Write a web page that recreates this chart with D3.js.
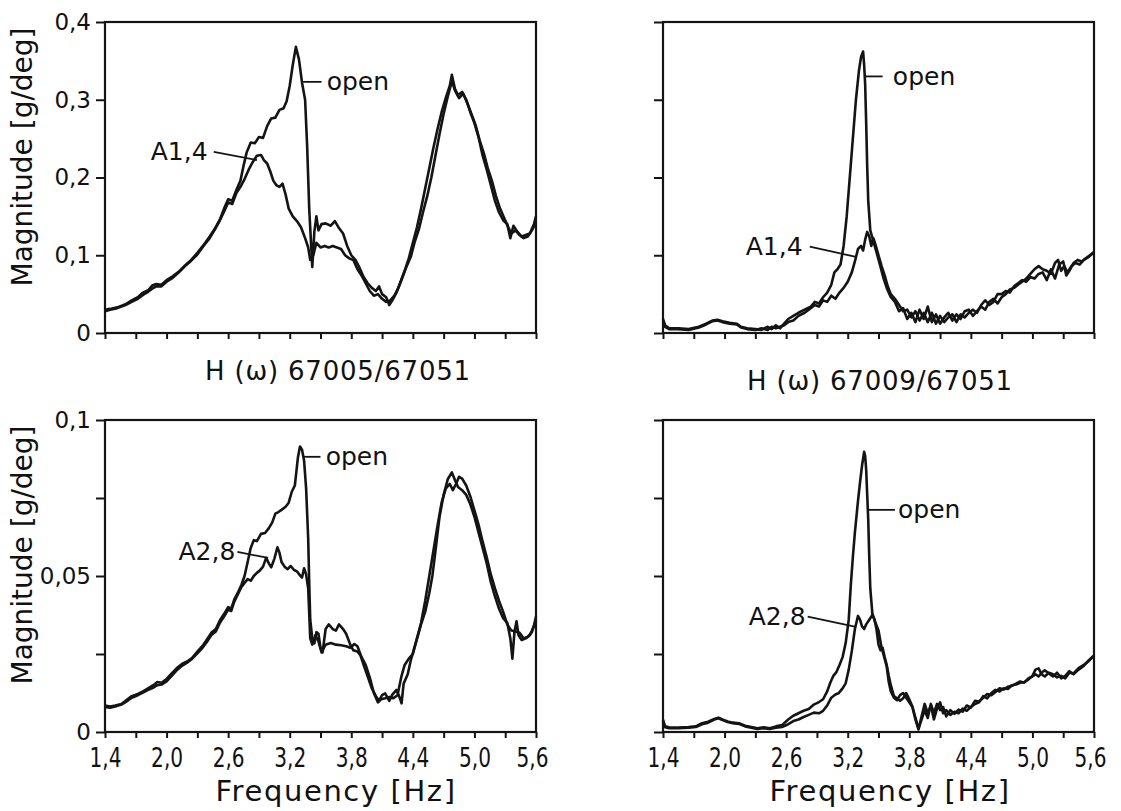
<!DOCTYPE html>
<html>
<head>
<meta charset="utf-8">
<script src="https://cdn.jsdelivr.net/npm/d3@7"></script>
<style>
  html, body { margin: 0; padding: 0; background: #fff; }
  svg { display: block; }
  text { font-family: "DejaVu Sans", sans-serif; fill: #111; }
</style>
</head>
<body>
<div id="chart"></div>
<script>
// ---------- data ----------
const X_TICKS = [1.4, 1.7, 2.0, 2.3, 2.6, 2.9, 3.2, 3.5, 3.8, 4.1, 4.4, 4.7, 5.0, 5.3, 5.6];
const X_TICK_LABELS = ['1,4', '', '2,0', '', '2,6', '', '3,2', '', '3,8', '', '4,4', '', '5,0', '', '5,6'];
const Y_TICKS_TOP = [0, 0.1, 0.2, 0.3, 0.4];
const Y_TICK_LABELS_TOP = ['0', '0,1', '0,2', '0,3', '0,4'];
const Y_TICKS_BOTTOM = [0, 0.025, 0.05, 0.075, 0.1];
const Y_TICK_LABELS_BOTTOM = ['0', '', '0,05', '', '0,1'];

// H(w) 67005/67051, upper (0..0.4)
const TL_OPEN = [[1.40,0.030],[1.45,0.031],[1.52,0.033],[1.60,0.037],[1.66,0.042],[1.72,0.046],[1.77,0.052],[1.82,0.055],[1.86,0.061],[1.90,0.063],[1.95,0.062],[2.00,0.068],[2.06,0.073],[2.12,0.079],[2.18,0.087],[2.24,0.094],[2.30,0.103],[2.36,0.113],[2.42,0.124],[2.47,0.134],[2.52,0.146],[2.56,0.160],[2.60,0.172],[2.64,0.170],[2.68,0.184],[2.72,0.196],[2.75,0.215],[2.78,0.232],[2.82,0.245],[2.86,0.244],[2.90,0.252],[2.94,0.251],[2.98,0.266],[3.02,0.276],[3.06,0.277],[3.10,0.287],[3.14,0.289],[3.17,0.298],[3.20,0.318],[3.23,0.345],[3.26,0.368],[3.29,0.352],[3.32,0.322],[3.35,0.300],[3.37,0.240],[3.39,0.160],[3.41,0.110],[3.42,0.085],[3.44,0.130],[3.46,0.150],[3.48,0.132],[3.51,0.140],[3.55,0.141],[3.60,0.138],[3.64,0.144],[3.68,0.135],[3.72,0.128],[3.76,0.112],[3.80,0.100],[3.84,0.094],[3.88,0.084],[3.92,0.072],[3.96,0.064],[4.00,0.058],[4.04,0.054],[4.07,0.060],[4.10,0.050],[4.14,0.046],[4.17,0.036],[4.20,0.042],[4.24,0.052],[4.28,0.066],[4.32,0.080],[4.36,0.096],[4.40,0.116],[4.44,0.136],[4.48,0.160],[4.52,0.186],[4.56,0.212],[4.60,0.238],[4.64,0.262],[4.68,0.284],[4.72,0.302],[4.76,0.318],[4.78,0.332],[4.81,0.314],[4.84,0.306],[4.88,0.310],[4.92,0.300],[4.96,0.284],[5.00,0.270],[5.04,0.252],[5.08,0.228],[5.12,0.210],[5.16,0.190],[5.20,0.170],[5.24,0.155],[5.28,0.145],[5.32,0.140],[5.35,0.122],[5.38,0.138],[5.42,0.130],[5.46,0.124],[5.50,0.126],[5.54,0.128],[5.58,0.140],[5.60,0.150]];
const TL_A14 = [[1.40,0.028],[1.45,0.030],[1.52,0.032],[1.60,0.036],[1.66,0.040],[1.72,0.044],[1.77,0.049],[1.82,0.053],[1.86,0.057],[1.90,0.060],[1.95,0.060],[2.00,0.066],[2.06,0.071],[2.12,0.078],[2.18,0.086],[2.24,0.093],[2.30,0.101],[2.36,0.112],[2.42,0.122],[2.47,0.133],[2.52,0.145],[2.56,0.156],[2.60,0.168],[2.64,0.166],[2.68,0.180],[2.72,0.188],[2.76,0.198],[2.80,0.210],[2.84,0.220],[2.88,0.228],[2.92,0.229],[2.95,0.222],[2.98,0.218],[3.01,0.208],[3.04,0.196],[3.07,0.190],[3.10,0.188],[3.13,0.192],[3.16,0.178],[3.19,0.160],[3.23,0.150],[3.27,0.144],[3.31,0.136],[3.35,0.122],[3.38,0.110],[3.40,0.094],[3.43,0.100],[3.46,0.116],[3.50,0.110],[3.54,0.112],[3.58,0.110],[3.62,0.112],[3.66,0.110],[3.70,0.108],[3.74,0.100],[3.78,0.096],[3.82,0.094],[3.86,0.082],[3.90,0.074],[3.94,0.064],[3.98,0.054],[4.02,0.048],[4.06,0.050],[4.10,0.044],[4.14,0.040],[4.18,0.042],[4.22,0.048],[4.26,0.058],[4.30,0.072],[4.34,0.086],[4.38,0.098],[4.42,0.118],[4.46,0.134],[4.50,0.156],[4.54,0.176],[4.58,0.200],[4.62,0.228],[4.66,0.256],[4.70,0.282],[4.74,0.304],[4.78,0.324],[4.81,0.312],[4.85,0.302],[4.89,0.308],[4.93,0.296],[4.97,0.282],[5.01,0.268],[5.05,0.248],[5.09,0.232],[5.13,0.212],[5.17,0.196],[5.21,0.176],[5.25,0.160],[5.29,0.148],[5.33,0.136],[5.36,0.128],[5.40,0.132],[5.44,0.126],[5.48,0.122],[5.52,0.124],[5.56,0.132],[5.60,0.142]];

// H(w) 67009/67051, upper (0..0.4)
const TR_OPEN = [[1.40,0.018],[1.42,0.010],[1.46,0.006],[1.55,0.006],[1.65,0.005],[1.75,0.008],[1.82,0.012],[1.88,0.016],[1.93,0.017],[1.98,0.015],[2.05,0.013],[2.12,0.012],[2.16,0.008],[2.22,0.006],[2.30,0.005],[2.36,0.004],[2.42,0.008],[2.46,0.005],[2.50,0.010],[2.54,0.006],[2.58,0.012],[2.62,0.018],[2.67,0.022],[2.72,0.026],[2.78,0.030],[2.84,0.034],[2.88,0.040],[2.92,0.038],[2.96,0.046],[3.00,0.052],[3.04,0.062],[3.07,0.078],[3.10,0.082],[3.13,0.088],[3.16,0.112],[3.19,0.150],[3.22,0.200],[3.25,0.250],[3.28,0.300],[3.31,0.338],[3.33,0.355],[3.35,0.362],[3.36,0.345],[3.37,0.320],[3.38,0.270],[3.39,0.214],[3.40,0.170],[3.42,0.132],[3.45,0.118],[3.48,0.104],[3.51,0.090],[3.55,0.070],[3.58,0.058],[3.62,0.046],[3.66,0.040],[3.70,0.028],[3.74,0.032],[3.78,0.018],[3.82,0.026],[3.86,0.014],[3.90,0.030],[3.94,0.018],[3.98,0.034],[4.02,0.014],[4.06,0.024],[4.10,0.012],[4.14,0.020],[4.18,0.026],[4.22,0.016],[4.26,0.024],[4.30,0.018],[4.34,0.028],[4.38,0.030],[4.42,0.022],[4.46,0.028],[4.50,0.034],[4.54,0.030],[4.58,0.040],[4.62,0.044],[4.66,0.038],[4.70,0.046],[4.74,0.050],[4.78,0.056],[4.82,0.058],[4.86,0.062],[4.90,0.066],[4.94,0.070],[4.98,0.076],[5.02,0.082],[5.06,0.086],[5.10,0.082],[5.14,0.080],[5.18,0.076],[5.22,0.090],[5.25,0.094],[5.28,0.080],[5.31,0.086],[5.34,0.078],[5.38,0.086],[5.42,0.090],[5.46,0.088],[5.50,0.094],[5.55,0.098],[5.60,0.104]];
const TR_A14 = [[1.40,0.016],[1.42,0.008],[1.46,0.005],[1.55,0.005],[1.65,0.004],[1.75,0.007],[1.82,0.011],[1.88,0.015],[1.93,0.016],[1.98,0.014],[2.05,0.012],[2.12,0.011],[2.16,0.007],[2.22,0.005],[2.30,0.004],[2.36,0.006],[2.42,0.004],[2.46,0.008],[2.50,0.006],[2.54,0.008],[2.58,0.010],[2.62,0.014],[2.67,0.016],[2.72,0.022],[2.78,0.026],[2.84,0.032],[2.88,0.036],[2.92,0.034],[2.96,0.042],[3.00,0.040],[3.04,0.048],[3.08,0.044],[3.12,0.052],[3.16,0.058],[3.20,0.066],[3.24,0.078],[3.27,0.092],[3.30,0.108],[3.33,0.112],[3.35,0.106],[3.37,0.120],[3.39,0.130],[3.41,0.124],[3.43,0.112],[3.45,0.122],[3.47,0.114],[3.50,0.100],[3.53,0.086],[3.56,0.074],[3.59,0.060],[3.62,0.050],[3.66,0.044],[3.70,0.036],[3.74,0.028],[3.78,0.030],[3.82,0.020],[3.86,0.028],[3.90,0.016],[3.94,0.026],[3.98,0.014],[4.02,0.026],[4.06,0.012],[4.10,0.022],[4.14,0.014],[4.18,0.020],[4.22,0.024],[4.26,0.014],[4.30,0.024],[4.34,0.020],[4.38,0.026],[4.42,0.030],[4.46,0.026],[4.50,0.036],[4.54,0.042],[4.58,0.036],[4.62,0.040],[4.66,0.050],[4.70,0.050],[4.74,0.054],[4.78,0.052],[4.82,0.060],[4.86,0.064],[4.90,0.068],[4.94,0.066],[4.98,0.072],[5.02,0.070],[5.06,0.076],[5.10,0.078],[5.14,0.068],[5.18,0.082],[5.22,0.070],[5.26,0.088],[5.30,0.092],[5.33,0.074],[5.36,0.080],[5.40,0.090],[5.44,0.094],[5.48,0.092],[5.52,0.096],[5.56,0.100],[5.60,0.104]];

// lower left (0..0.1)
const BL_OPEN = [[1.40,0.0085],[1.45,0.0082],[1.50,0.0085],[1.56,0.0090],[1.62,0.0105],[1.66,0.0115],[1.72,0.0122],[1.77,0.0130],[1.82,0.0140],[1.87,0.0150],[1.91,0.0160],[1.95,0.0158],[2.00,0.0170],[2.05,0.0188],[2.10,0.0205],[2.15,0.0218],[2.20,0.0226],[2.25,0.0238],[2.30,0.0258],[2.35,0.0276],[2.40,0.0300],[2.44,0.0320],[2.48,0.0330],[2.52,0.0358],[2.56,0.0378],[2.60,0.0400],[2.63,0.0395],[2.66,0.0425],[2.70,0.0450],[2.73,0.0472],[2.76,0.0500],[2.79,0.0545],[2.82,0.0590],[2.85,0.0615],[2.88,0.0612],[2.92,0.0635],[2.96,0.0638],[3.00,0.0655],[3.03,0.0672],[3.06,0.0700],[3.09,0.0705],[3.12,0.0712],[3.16,0.0722],[3.19,0.0735],[3.22,0.0770],[3.25,0.0790],[3.28,0.0880],[3.30,0.0915],[3.32,0.0905],[3.34,0.0870],[3.36,0.0780],[3.38,0.0620],[3.39,0.0480],[3.40,0.0360],[3.42,0.0300],[3.44,0.0284],[3.46,0.0320],[3.48,0.0315],[3.50,0.0270],[3.52,0.0255],[3.55,0.0330],[3.58,0.0345],[3.62,0.0330],[3.65,0.0325],[3.68,0.0345],[3.72,0.0330],[3.75,0.0315],[3.79,0.0280],[3.82,0.0262],[3.86,0.0258],[3.89,0.0245],[3.92,0.0215],[3.96,0.0178],[4.00,0.0140],[4.04,0.0115],[4.07,0.0100],[4.10,0.0118],[4.13,0.0124],[4.17,0.0100],[4.20,0.0120],[4.24,0.0135],[4.27,0.0112],[4.29,0.0092],[4.31,0.0155],[4.35,0.0185],[4.38,0.0230],[4.41,0.0265],[4.45,0.0310],[4.48,0.0345],[4.52,0.0385],[4.56,0.0445],[4.59,0.0500],[4.62,0.0580],[4.66,0.0690],[4.70,0.0760],[4.74,0.0810],[4.78,0.0832],[4.81,0.0808],[4.84,0.0785],[4.88,0.0775],[4.92,0.0760],[4.96,0.0730],[5.00,0.0690],[5.04,0.0640],[5.08,0.0590],[5.12,0.0540],[5.16,0.0480],[5.20,0.0435],[5.24,0.0395],[5.28,0.0365],[5.32,0.0350],[5.35,0.0300],[5.37,0.0235],[5.39,0.0320],[5.41,0.0355],[5.43,0.0310],[5.46,0.0295],[5.50,0.0300],[5.54,0.0310],[5.58,0.0340],[5.60,0.0370]];
const BL_A28 = [[1.40,0.0080],[1.45,0.0078],[1.50,0.0082],[1.56,0.0088],[1.62,0.0100],[1.66,0.0110],[1.72,0.0118],[1.77,0.0126],[1.82,0.0135],[1.87,0.0142],[1.91,0.0150],[1.95,0.0152],[2.00,0.0162],[2.05,0.0180],[2.10,0.0198],[2.15,0.0212],[2.20,0.0222],[2.25,0.0235],[2.30,0.0252],[2.35,0.0270],[2.40,0.0292],[2.44,0.0312],[2.48,0.0322],[2.52,0.0350],[2.56,0.0370],[2.60,0.0392],[2.63,0.0388],[2.66,0.0418],[2.70,0.0445],[2.73,0.0465],[2.76,0.0478],[2.79,0.0490],[2.82,0.0485],[2.85,0.0500],[2.88,0.0510],[2.91,0.0518],[2.94,0.0530],[2.97,0.0558],[3.00,0.0538],[3.02,0.0528],[3.05,0.0555],[3.08,0.0592],[3.10,0.0575],[3.12,0.0545],[3.15,0.0530],[3.18,0.0522],[3.21,0.0532],[3.24,0.0520],[3.27,0.0515],[3.30,0.0502],[3.32,0.0495],[3.34,0.0525],[3.36,0.0505],[3.38,0.0460],[3.40,0.0300],[3.42,0.0280],[3.45,0.0310],[3.48,0.0290],[3.51,0.0255],[3.55,0.0280],[3.60,0.0285],[3.65,0.0280],[3.70,0.0278],[3.75,0.0275],[3.79,0.0270],[3.83,0.0282],[3.86,0.0275],[3.90,0.0240],[3.94,0.0215],[3.98,0.0175],[4.02,0.0125],[4.06,0.0095],[4.09,0.0105],[4.13,0.0108],[4.17,0.0112],[4.21,0.0108],[4.25,0.0118],[4.29,0.0180],[4.32,0.0215],[4.36,0.0235],[4.40,0.0250],[4.44,0.0300],[4.48,0.0350],[4.52,0.0420],[4.56,0.0500],[4.60,0.0580],[4.64,0.0660],[4.68,0.0735],[4.72,0.0780],[4.76,0.0795],[4.79,0.0775],[4.82,0.0795],[4.85,0.0818],[4.88,0.0812],[4.92,0.0790],[4.96,0.0755],[5.00,0.0710],[5.04,0.0665],[5.08,0.0610],[5.12,0.0560],[5.16,0.0505],[5.20,0.0460],[5.24,0.0420],[5.28,0.0385],[5.32,0.0345],[5.36,0.0325],[5.40,0.0322],[5.44,0.0318],[5.48,0.0300],[5.52,0.0305],[5.56,0.0320],[5.60,0.0360]];

// lower right (0..0.1)
const BR_OPEN = [[1.40,0.0040],[1.42,0.0018],[1.46,0.0015],[1.55,0.0014],[1.65,0.0016],[1.72,0.0018],[1.78,0.0028],[1.84,0.0033],[1.90,0.0042],[1.94,0.0046],[1.98,0.0040],[2.03,0.0034],[2.08,0.0030],[2.14,0.0028],[2.20,0.0020],[2.26,0.0016],[2.32,0.0012],[2.38,0.0015],[2.44,0.0012],[2.50,0.0018],[2.56,0.0022],[2.62,0.0040],[2.67,0.0052],[2.72,0.0060],[2.77,0.0068],[2.82,0.0074],[2.87,0.0088],[2.92,0.0096],[2.96,0.0105],[3.00,0.0130],[3.03,0.0158],[3.06,0.0180],[3.09,0.0192],[3.12,0.0215],[3.15,0.0240],[3.18,0.0285],[3.21,0.0360],[3.23,0.0470],[3.25,0.0560],[3.27,0.0640],[3.30,0.0740],[3.32,0.0800],[3.34,0.0855],[3.36,0.0898],[3.37,0.0885],[3.38,0.0840],[3.39,0.0760],[3.40,0.0680],[3.41,0.0560],[3.42,0.0460],[3.44,0.0380],[3.47,0.0350],[3.50,0.0325],[3.53,0.0270],[3.56,0.0235],[3.58,0.0210],[3.60,0.0160],[3.62,0.0130],[3.65,0.0110],[3.68,0.0102],[3.71,0.0118],[3.74,0.0125],[3.77,0.0110],[3.80,0.0095],[3.83,0.0080],[3.86,0.0040],[3.89,0.0008],[3.92,0.0050],[3.95,0.0090],[3.98,0.0060],[4.01,0.0085],[4.04,0.0040],[4.07,0.0075],[4.10,0.0095],[4.13,0.0060],[4.16,0.0070],[4.20,0.0055],[4.24,0.0065],[4.28,0.0060],[4.32,0.0075],[4.36,0.0068],[4.40,0.0080],[4.44,0.0090],[4.48,0.0095],[4.52,0.0115],[4.56,0.0108],[4.60,0.0125],[4.64,0.0135],[4.68,0.0130],[4.72,0.0140],[4.76,0.0138],[4.80,0.0150],[4.84,0.0152],[4.88,0.0158],[4.92,0.0160],[4.96,0.0168],[5.00,0.0180],[5.03,0.0200],[5.06,0.0204],[5.09,0.0185],[5.12,0.0178],[5.16,0.0190],[5.20,0.0185],[5.24,0.0175],[5.28,0.0180],[5.32,0.0172],[5.36,0.0190],[5.40,0.0188],[5.45,0.0205],[5.50,0.0215],[5.55,0.0228],[5.60,0.0245]];
const BR_A28 = [[1.40,0.0035],[1.42,0.0015],[1.46,0.0012],[1.55,0.0012],[1.65,0.0014],[1.72,0.0016],[1.78,0.0025],[1.84,0.0030],[1.90,0.0040],[1.94,0.0044],[1.98,0.0038],[2.03,0.0032],[2.08,0.0028],[2.14,0.0026],[2.20,0.0018],[2.26,0.0014],[2.32,0.0010],[2.38,0.0012],[2.44,0.0010],[2.50,0.0014],[2.56,0.0016],[2.62,0.0025],[2.67,0.0035],[2.72,0.0040],[2.77,0.0048],[2.82,0.0055],[2.87,0.0062],[2.92,0.0060],[2.96,0.0068],[3.00,0.0085],[3.04,0.0110],[3.08,0.0120],[3.11,0.0124],[3.15,0.0140],[3.18,0.0156],[3.21,0.0200],[3.24,0.0260],[3.27,0.0330],[3.30,0.0372],[3.32,0.0360],[3.34,0.0338],[3.36,0.0330],[3.38,0.0345],[3.41,0.0360],[3.44,0.0375],[3.46,0.0362],[3.48,0.0330],[3.50,0.0280],[3.52,0.0262],[3.54,0.0270],[3.56,0.0240],[3.58,0.0215],[3.60,0.0180],[3.62,0.0150],[3.65,0.0115],[3.68,0.0108],[3.71,0.0100],[3.74,0.0108],[3.77,0.0125],[3.80,0.0105],[3.83,0.0082],[3.86,0.0045],[3.89,0.0012],[3.92,0.0040],[3.95,0.0070],[3.98,0.0045],[4.01,0.0090],[4.04,0.0060],[4.07,0.0090],[4.10,0.0070],[4.13,0.0080],[4.16,0.0050],[4.20,0.0070],[4.24,0.0058],[4.28,0.0072],[4.32,0.0065],[4.36,0.0085],[4.40,0.0078],[4.44,0.0100],[4.48,0.0098],[4.52,0.0110],[4.56,0.0122],[4.60,0.0118],[4.64,0.0128],[4.68,0.0140],[4.72,0.0136],[4.76,0.0145],[4.80,0.0148],[4.84,0.0155],[4.88,0.0162],[4.92,0.0158],[4.96,0.0172],[5.00,0.0178],[5.03,0.0185],[5.06,0.0178],[5.09,0.0190],[5.12,0.0198],[5.16,0.0188],[5.20,0.0178],[5.24,0.0190],[5.28,0.0172],[5.32,0.0180],[5.36,0.0195],[5.40,0.0185],[5.45,0.0200],[5.50,0.0212],[5.55,0.0230],[5.60,0.0245]];

// ---------- layout ----------
const W = 1121, H = 811;
const INK = '#141414';

// label anchors are in data units: leader from (f0,v0) to (f1,v1), text at tf
const PANELS = [
  { x0: 105, x1: 536, y0: 22, y1: 333, ymax: 0.4, ticks: Y_TICKS_TOP, tickLabels: Y_TICK_LABELS_TOP,
    showX: false, series: [TL_OPEN, TL_A14],
    notes: [
      { text: 'open', f0: 3.33, v0: 0.323, f1: 3.51, v1: 0.323, tf: 3.56, side: 'right' },
      { text: 'A1,4', f0: 2.46, v0: 0.233, f1: 2.88, v1: 0.2225, tf: 2.40, side: 'left' }
    ] },
  { x0: 663, x1: 1094, y0: 22, y1: 333, ymax: 0.4, ticks: Y_TICKS_TOP, tickLabels: null,
    showX: false, series: [TR_OPEN, TR_A14],
    notes: [
      { text: 'open', f0: 3.37, v0: 0.33, f1: 3.54, v1: 0.33, tf: 3.64, side: 'right' },
      { text: 'A1,4', f0: 2.83, v0: 0.111, f1: 3.28, v1: 0.098, tf: 2.76, side: 'left' }
    ] },
  { x0: 105, x1: 536, y0: 420, y1: 732, ymax: 0.1, ticks: Y_TICKS_BOTTOM, tickLabels: Y_TICK_LABELS_BOTTOM,
    showX: true, series: [BL_OPEN, BL_A28],
    notes: [
      { text: 'open', f0: 3.335, v0: 0.0882, f1: 3.50, v1: 0.0882, tf: 3.55, side: 'right' },
      { text: 'A2,8', f0: 2.69, v0: 0.0577, f1: 2.99, v1: 0.0558, tf: 2.67, side: 'left' }
    ] },
  { x0: 663, x1: 1094, y0: 420, y1: 732, ymax: 0.1, ticks: Y_TICKS_BOTTOM, tickLabels: null,
    showX: true, series: [BR_OPEN, BR_A28],
    notes: [
      { text: 'open', f0: 3.40, v0: 0.0712, f1: 3.66, v1: 0.0712, tf: 3.69, side: 'right' },
      { text: 'A2,8', f0: 2.81, v0: 0.037, f1: 3.28, v1: 0.0337, tf: 2.79, side: 'left' }
    ] }
];

const svg = d3.select('#chart').append('svg')
  .attr('width', W).attr('height', H)
  .attr('viewBox', `0 0 ${W} ${H}`);

svg.append('rect').attr('width', W).attr('height', H).attr('fill', '#fff');

PANELS.forEach(p => {
  const x = d3.scaleLinear().domain([1.4, 5.6]).range([p.x0, p.x1]);
  const y = d3.scaleLinear().domain([0, p.ymax]).range([p.y1, p.y0]);
  const g = svg.append('g');

  // x axis, ticks every 0.3, labels every 0.6 on the lower row only
  const xAxis = d3.axisBottom(x).tickValues(X_TICKS).tickSize(6).tickSizeOuter(0)
    .tickFormat((d, i) => p.showX ? X_TICK_LABELS[i] : '');
  const gx = g.append('g').attr('transform', `translate(0,${p.y1})`).call(xAxis);
  gx.select('.domain').remove();
  gx.selectAll('.tick line').attr('stroke', INK).attr('stroke-width', 2);
  gx.selectAll('.tick text')
    .attr('font-family', '"DejaVu Sans Condensed", "DejaVu Sans", sans-serif')
    .attr('font-size', 27).attr('fill', INK)
    .attr('y', 35).attr('dy', 0)
    .attr('dx', d => d === 5.6 ? -4 : 0)
    .each(function () {
      const t = d3.select(this);
      if (t.text()) t.attr('textLength', 32).attr('lengthAdjust', 'spacingAndGlyphs');
    });

  // y axis
  const yAxis = d3.axisLeft(y).tickValues(p.ticks).tickSize(9).tickSizeOuter(0)
    .tickFormat((d, i) => p.tickLabels ? p.tickLabels[i] : '');
  const gy = g.append('g').attr('transform', `translate(${p.x0},0)`).call(yAxis);
  gy.select('.domain').remove();
  gy.selectAll('.tick line').attr('stroke', INK).attr('stroke-width', 2);
  gy.selectAll('.tick text').attr('font-size', 23).attr('fill', INK)
    .attr('font-family', 'DejaVu Sans, sans-serif').attr('x', -14);

  // frame
  g.append('rect')
    .attr('x', p.x0).attr('y', p.y0)
    .attr('width', p.x1 - p.x0).attr('height', p.y1 - p.y0)
    .attr('fill', 'none').attr('stroke', INK).attr('stroke-width', 2.2);

  // curves
  const line = d3.line().x(d => x(d[0])).y(d => y(d[1]));
  g.selectAll('path.curve').data(p.series).join('path')
    .attr('class', 'curve')
    .attr('d', line)
    .attr('fill', 'none')
    .attr('stroke', INK)
    .attr('stroke-width', 2.6)
    .attr('stroke-linejoin', 'round');

  // annotations with leader lines
  p.notes.forEach(n => {
    g.append('line')
      .attr('x1', x(n.f0)).attr('y1', y(n.v0))
      .attr('x2', x(n.f1)).attr('y2', y(n.v1))
      .attr('stroke', INK).attr('stroke-width', 1.8);
    g.append('text')
      .attr('x', x(n.tf)).attr('y', y(n.v0))
      .attr('text-anchor', n.side === 'right' ? 'start' : 'end')
      .attr('dominant-baseline', 'central')
      .attr('font-size', 25)
      .text(n.text);
  });
});

// panel captions
svg.append('text').attr('x', 338).attr('y', 380).attr('text-anchor', 'middle')
  .attr('font-size', 26).attr('letter-spacing', 0.8).text('H (ω) 67005/67051');
svg.append('text').attr('x', 880).attr('y', 390).attr('text-anchor', 'middle')
  .attr('font-size', 26).attr('letter-spacing', 0.8).text('H (ω) 67009/67051');

// axis titles
[157, 555].forEach(cy => {
  svg.append('text')
    .attr('transform', `translate(22,${cy}) rotate(-90)`)
    .attr('text-anchor', 'middle').attr('dominant-baseline', 'central')
    .attr('font-size', 28)
    .text('Magnitude [g/deg]');
});
[336, 890].forEach(cx => {
  svg.append('text')
    .attr('x', cx).attr('y', 801).attr('text-anchor', 'middle')
    .attr('font-size', 29).attr('letter-spacing', 1.6)
    .text('Frequency [Hz]');
});
</script>
</body>
</html>
